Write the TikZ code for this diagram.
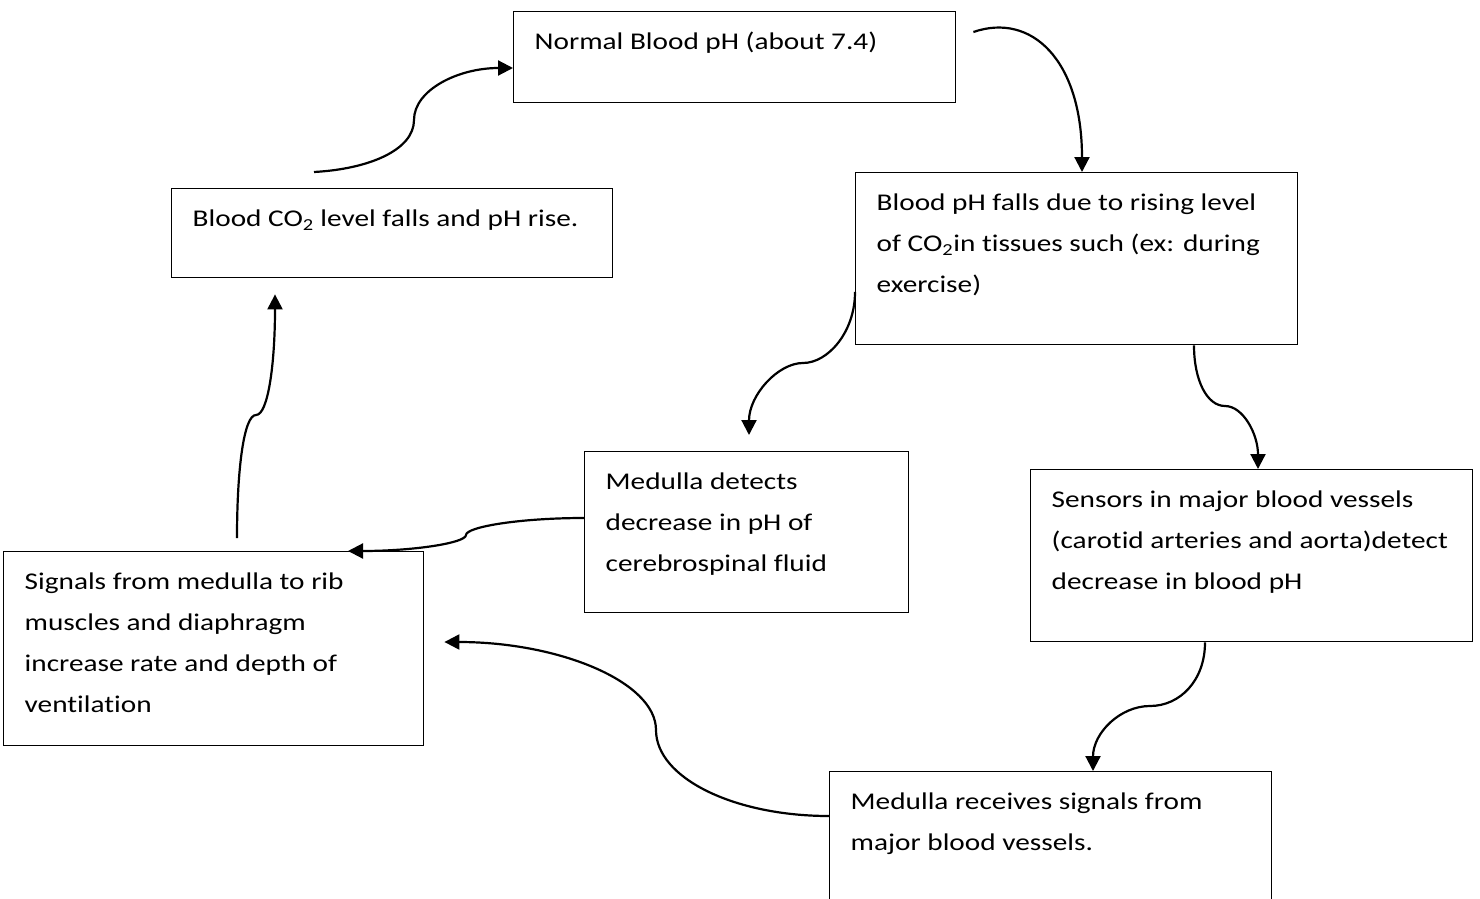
\documentclass[tikz,border=0pt]{standalone}
\usepackage{fontspec}
\setmainfont{Carlito}[FakeStretch=1.22,Ligatures=NoCommon]
\usetikzlibrary{arrows.meta,calc}
\newcommand\bxt[3]{\parbox[c][#2][t]{#1}{\raggedright\leftskip=21pt\relax\rule{0pt}{38pt}#3}}
\begin{document}
\begin{tikzpicture}[x=1pt,y=-1pt,
  box/.style={draw, line width=1.4pt, inner sep=0pt, anchor=north west, font=\fontsize{24}{41}\selectfont},
  arr/.style={line width=2.2pt, -{Triangle[length=15pt,width=15pt]}}]
\useasboundingbox (0,0) rectangle (1480,899);
\fill[white] (0,0) rectangle (1480,899);
% boxes
\node[box] (norm) at (513,11) {\bxt{442pt}{91pt}{Normal Blood pH (about 7.4)}};
\node[box] (co2) at (171,188) {\bxt{441pt}{89pt}{Blood CO\textsubscript{2} level falls and pH rise.}};
\node[box] (falls) at (855,172) {\bxt{442pt}{172pt}{Blood pH falls due to rising level\\ of CO\textsubscript{2}in tissues such (ex: during\\ exercise)}};
\node[box] (detects) at (584,451) {\bxt{324pt}{161pt}{Medulla detects\\ decrease in pH of\\ cerebrospinal fluid}};
\node[box] (sens) at (1030,469) {\bxt{442pt}{172pt}{Sensors in major blood vessels\\ (carotid arteries and aorta)detect\\ decrease in blood pH}};
\node[box] (sig) at (3,551) {\bxt{420pt}{194pt}{Signals from medulla to rib\\ muscles and diaphragm\\ increase rate and depth of\\ ventilation}};
\node[box] (recv) at (829,771) {\bxt{442pt}{150pt}{Medulla receives signals from\\ major blood vessels.}};
% connector end points
\coordinate (a1s) at ($(co2.north west)+(143,-16)$);
\coordinate (a1m) at (414,120);
\coordinate (a1e) at ($(norm.north west)+(0,57)$);
\coordinate (a2s) at ($(norm.north east)+(17,21)$);
\coordinate (a2e) at ($(falls.north west)+(227,0)$);
\coordinate (a3s) at ($(falls.north west)+(0,120)$);
\coordinate (a3m) at (803,363);
\coordinate (a3e) at ($(detects.north west)+(165,-16)$);
\coordinate (a4s) at ($(falls.south west)+(339,0)$);
\coordinate (a4m) at (1225,406);
\coordinate (a4e) at ($(sens.north west)+(228,0)$);
\coordinate (a5s) at ($(sens.south west)+(175,0)$);
\coordinate (a5m) at (1150,706);
\coordinate (a5e) at ($(recv.north west)+(264,0)$);
\coordinate (a6s) at ($(recv.north west)+(0,45)$);
\coordinate (a6m) at (656,730);
\coordinate (a6e) at ($(sig.north east)+(20,91)$);
\coordinate (a7s) at ($(detects.north west)+(0,67)$);
\coordinate (a7m) at (466,535);
\coordinate (a7e) at ($(sig.north west)+(345,0)$);
\coordinate (a8s) at ($(sig.north west)+(234,-13)$);
\coordinate (a8m) at (256,415);
\coordinate (a8e) at ($(co2.south west)+(104,16)$);
% connectors
\draw[arr] (a1s) .. controls +(55,-3) and +(0,30) .. (a1m) .. controls +(0,-30) and +(-55,0) .. (a1e);
\draw[arr] (a2s) .. controls +(58,-20) and +(0,-112) .. (a2e);
\draw[arr] (a3s) .. controls +(0,40) and +(25,0) .. (a3m) .. controls +(-25,0) and +(0,-40) .. (a3e);
\draw[arr] (a4s) .. controls +(0,35) and +(-18,0) .. (a4m) .. controls +(18,0) and +(0,-35) .. (a4e);
\draw[arr] (a5s) .. controls +(0,38) and +(30,0) .. (a5m) .. controls +(-30,0) and +(0,-38) .. (a5e);
\draw[arr] (a6s) .. controls +(-95,0) and +(0,48) .. (a6m) .. controls +(0,-48) and +(115,0) .. (a6e);
\draw[arr] (a7s) .. controls +(-65,0) and +(0,-8) .. (a7m) .. controls +(0,8) and +(65,0) .. (a7e);
\draw[arr] (a8s) .. controls +(0,-70) and +(-12,0) .. (a8m) .. controls +(12,0) and +(0,70) .. (a8e);
\end{tikzpicture}
\end{document}
